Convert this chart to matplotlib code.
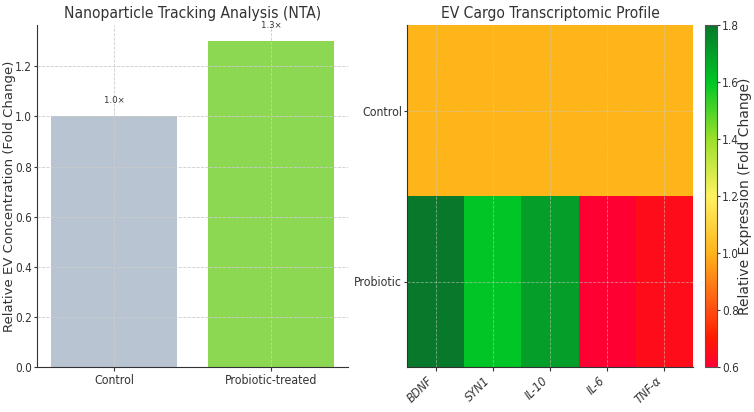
import matplotlib
matplotlib.use("Agg")
import matplotlib.pyplot as plt
from matplotlib import font_manager
import numpy as np
from matplotlib.colors import LinearSegmentedColormap

# Data
groups = ["Control", "Probiotic-treated"]
nta_values = [1.0, 1.3]
nta_labels = ["1.0×", "1.3×"]

genes = ["BDNF", "SYN1", "IL-10", "IL-6", "TNF-α"]
rows = ["Control", "Probiotic"]
control_expr = [1.0, 1.0, 1.0, 1.0, 1.0]
probiotic_expr = [1.8, 1.6, 1.7, 0.6, 0.65]

TXT = "#333333"
plt.rcParams['font.family'] = ['DejaVu Sans']
plt.rcParams['text.color'] = TXT
plt.rcParams['axes.labelcolor'] = TXT
plt.rcParams['xtick.color'] = TXT
plt.rcParams['ytick.color'] = TXT
plt.rcParams['xtick.major.size'] = 3
plt.rcParams['ytick.major.size'] = 2.5
plt.rcParams['xtick.major.pad'] = 2
plt.rcParams['ytick.major.pad'] = 1

cond_files = [f for f in font_manager.fontManager.ttflist
              if f.name == "DejaVu Sans" and "ondensed" in f.fname]
if cond_files:
    HF = dict(family="DejaVu Sans", stretch="condensed")
    k = 1.0
else:
    HF = dict(family="DejaVu Sans")
    k = 0.9
VF = dict(family="DejaVu Sans", stretch="normal")

W, H = 754, 412
fig = plt.figure(figsize=(W/100, H/100), dpi=100)

def box(x0, x1, y0, y1):
    return [x0/W, (H-y1)/H, (x1-x0)/W, (y1-y0)/H]

TS = 8.8 * k
YS = 8.5 * k
# Left: bar chart
ax = fig.add_axes(box(37, 348, 25, 367))
x = np.arange(len(groups))
ax.bar(x, nta_values, width=0.8, color=["#B8C4D2", "#8DD853"], zorder=1)
for xi, v, lab in zip(x, nta_values, nta_labels):
    ax.text(xi, v + 0.064, lab, ha="center", va="center", fontsize=6.8 * k, color=TXT, **HF)
ax.set_xticks(x)
ax.set_xticklabels(groups, fontsize=TS, **HF)
yt = np.arange(0, 1.3, 0.2)
ax.set_yticks(yt)
ax.set_yticklabels([f"{t:.1f}" for t in yt], fontsize=YS, **HF)
ax.set_ylabel("Relative EV Concentration (Fold Change)", fontsize=9.5, **VF)
ax.yaxis.set_label_coords((16.2 - 37) / 311, 0.5)
ax.set_title("Nanoparticle Tracking Analysis (NTA)", fontsize=11.2 * k, color=TXT, pad=5, **HF)
ax.grid(True, linestyle="--", linewidth=0.6, color="#cccccc", zorder=2)
ax.set_axisbelow(False)
for s in ["top", "right"]:
    ax.spines[s].set_visible(False)
for s in ["left", "bottom"]:
    ax.spines[s].set_color("#333333")

# Right: heatmap
cmap = LinearSegmentedColormap.from_list(
    "ev",
    [(0.0, "#FF0033"), (0.0833, "#FF1A00"), (0.1667, "#FF4E10"), (0.3333, "#FDB51A"),
     (0.5, "#FFF262"), (0.6667, "#9BE02A"), (0.8333, "#00C626"), (1.0, "#08782A")])
data = np.array([control_expr, probiotic_expr])
hx = fig.add_axes(box(407, 693, 25, 367))
im = hx.imshow(data, cmap=cmap, vmin=0.6, vmax=1.8, aspect="auto")
hx.set_xticks(np.arange(len(genes)))
hx.set_xticklabels(genes, rotation=45, ha="right", fontsize=TS, fontstyle="italic", **HF)
hx.set_yticks(np.arange(len(rows)))
hx.set_yticklabels(rows, fontsize=TS, **HF)
hx.set_title("EV Cargo Transcriptomic Profile", fontsize=11.2 * k, color=TXT, pad=5, **HF)
hx.grid(True, linestyle="--", linewidth=0.6, color="#cccccc", alpha=0.6)
for s in ["top", "right"]:
    hx.spines[s].set_visible(False)
for s in ["left", "bottom"]:
    hx.spines[s].set_color("#333333")

cax = fig.add_axes(box(705, 717, 25, 367))
cb = fig.colorbar(im, cax=cax)
cbt = np.arange(0.6, 1.81, 0.2)
cb.set_ticks(cbt)
cb.ax.tick_params(length=2.5, pad=1)
cb.ax.set_yticklabels([f"{t:.1f}" for t in cbt], fontsize=YS, **HF)
cb.set_label("Relative Expression (Fold Change)", fontsize=10, **VF)
cb.ax.yaxis.set_label_coords((737.6 - 705) / 12, 0.5)
cb.outline.set_edgecolor("#555555")

fig.savefig("out.png", dpi=100)
